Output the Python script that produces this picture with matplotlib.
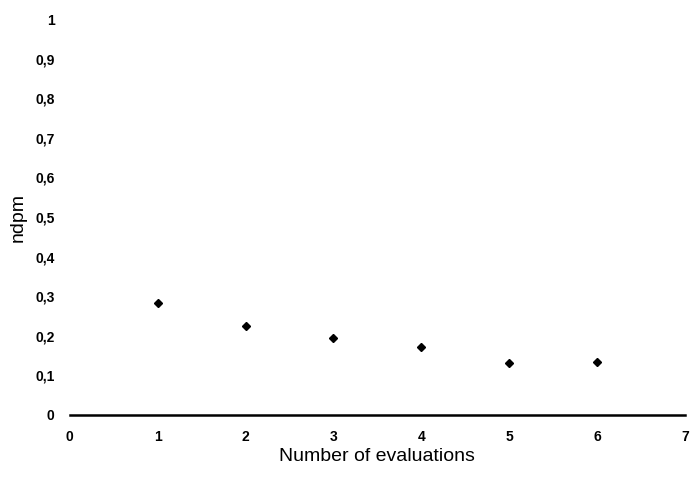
import matplotlib
matplotlib.use('Agg')
import matplotlib.pyplot as plt
from matplotlib.ticker import FuncFormatter
import numpy as np

# Datu punkti
evaluations = [1, 2, 3, 4, 5, 6]
ndpm = [0.284, 0.225, 0.195, 0.171, 0.131, 0.133]

plt.rcParams['font.family'] = ['Liberation Sans', 'DejaVu Sans']

fig = plt.figure(figsize=(6.9, 4.78), dpi=100)
ax = fig.add_axes([0.101, 0.132, 0.892, 0.828])

ax.plot(evaluations, ndpm, linestyle='none', marker='D', markersize=4.5, color='black')

ax.set_xlim(0, 7)
ax.set_ylim(0, 1)
ax.set_xticks(np.arange(0, 8, 1))
ax.set_yticks(np.arange(0, 1.01, 0.1))

# Komats kā decimālatdalītājs
ax.yaxis.set_major_formatter(FuncFormatter(lambda v, p: ('%g' % round(v, 1)).replace('.', ',')))

for s in ['top', 'right', 'left']:
    ax.spines[s].set_visible(False)
ax.spines['bottom'].set_linewidth(1.8)

ax.tick_params(axis='y', length=0, pad=11, labelsize=10)
ax.tick_params(axis='x', length=0, pad=11, labelsize=10)
for lbl in ax.get_xticklabels() + ax.get_yticklabels():
    lbl.set_fontweight('bold')

ax.set_xlabel('Number of evaluations', fontsize=14, labelpad=3)
ax.set_ylabel('ndpm', fontsize=14, labelpad=6)

fig.savefig('out.png', dpi=100)
